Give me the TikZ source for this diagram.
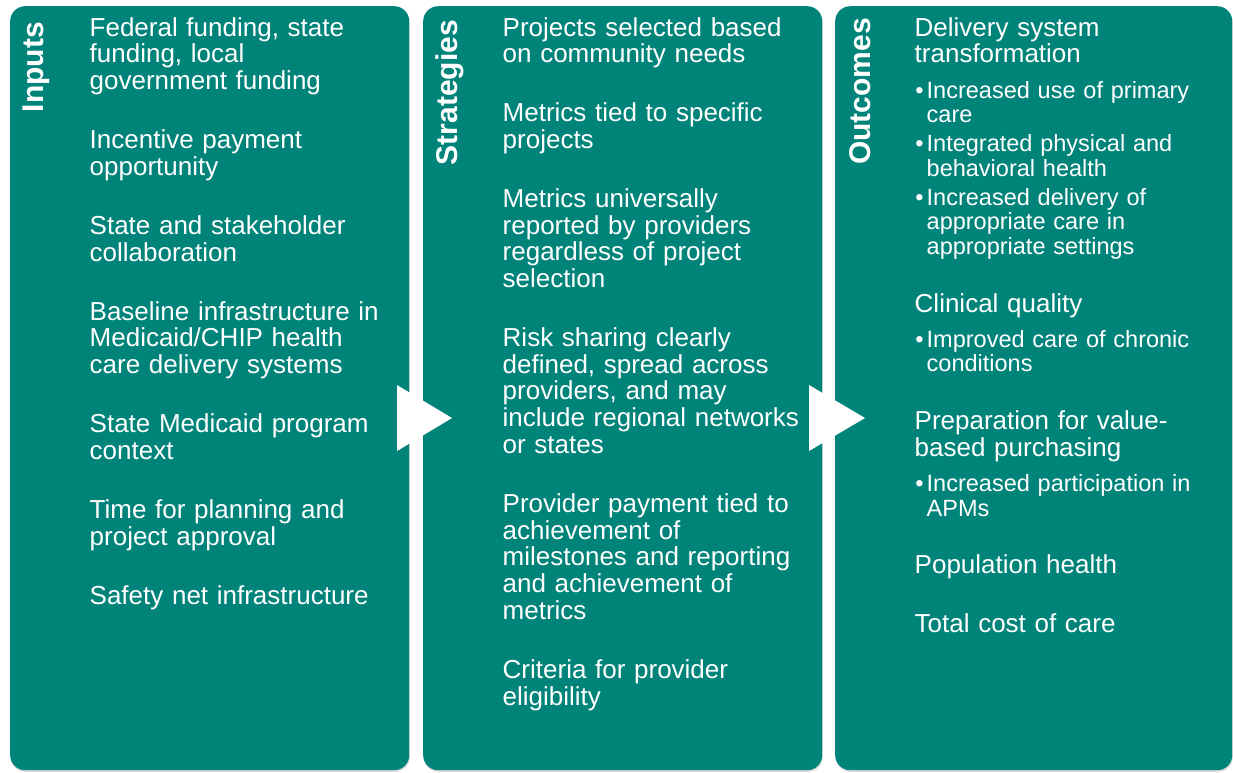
\documentclass[tikz,border=0pt]{standalone}
\usepackage{fontspec}
\setmainfont{Liberation Sans}
\usetikzlibrary{positioning,shadows}
\definecolor{lmteal}{RGB}{0,132,122}
\tikzset{panel/.style={fill=lmteal, rounded corners=15pt, minimum width=399pt, minimum height=764pt, anchor=north west, inner sep=0pt, drop shadow={shadow xshift=0.6pt, shadow yshift=-1.6pt, opacity=0.3}}}
\tikzset{paneltitle/.style={text=white, font=\fontsize{30}{31}\selectfont\bfseries, rotate=90, anchor=base east, inner sep=0pt}}
\tikzset{entry/.style={text=white, font=\fontsize{26}{26.8}\selectfont, text width=330pt, align=left, inner sep=0pt, execute at begin node={\lineskiplimit=-30pt\strut}, execute at end node=\strut}}
\tikzset{subentry/.style={entry, font=\fontsize{23.5}{24.6}\selectfont, text width=300pt}}
\newcommand{\bul}{\llap{\textbullet\hspace{3pt}}}

\begin{document}
\begin{tikzpicture}[x=1pt, y=-1pt]
\useasboundingbox (0,0) rectangle (1233,772);
% three columns
\node[panel] (inbox) at (10,6) {};
\node[panel] (stbox) at (423,6) {};
\node[panel, minimum width=397pt] (outbox) at (835,6) {};
\node[paneltitle] (intitle) at ([shift={(33,16)}]inbox.north west) {Inputs};
\node[paneltitle] (sttitle) at ([shift={(34,14)}]stbox.north west) {Strategies};
\node[paneltitle] (outtitle) at ([shift={(35,12)}]outbox.north west) {Outcomes};
% inputs
\node[entry, below right=11pt and 79.5pt of inbox.north west] (in1) {Federal funding, state\\funding, local\\government funding};
\node[entry, below=31.7pt of in1] (in2) {Incentive payment\\opportunity};
\node[entry, below=31.7pt of in2] (in3) {State and stakeholder\\collaboration};
\node[entry, below=31.7pt of in3] (in4) {Baseline infrastructure in\\Medicaid/CHIP health\\care delivery systems};
\node[entry, below=31.7pt of in4] (in5) {State Medicaid program\\context};
\node[entry, below=31.7pt of in5] (in6) {Time for planning and\\project approval};
\node[entry, below=31.7pt of in6] (in7) {Safety net infrastructure};
% strategies
\node[entry, below right=11pt and 79.5pt of stbox.north west] (st1) {Projects selected based\\on community needs};
\node[entry, below=31.5pt of st1] (st2) {Metrics tied to specific\\projects};
\node[entry, below=31.5pt of st2] (st3) {Metrics universally\\reported by providers\\regardless of project\\selection};
\node[entry, below=31.5pt of st3] (st4) {Risk sharing clearly\\defined, spread across\\providers, and may\\include regional networks\\or states};
\node[entry, below=31.5pt of st4] (st5) {Provider payment tied to\\achievement of\\milestones and reporting\\and achievement of\\metrics};
\node[entry, below=31.5pt of st5] (st6) {Criteria for provider\\eligibility};
% outcomes
\node[entry, below right=11pt and 79.5pt of outbox.north west] (out1) {Delivery system\\transformation};
\node[subentry, below=9.6pt of out1.south west, anchor=north west, xshift=12pt] (ob1) {\bul Increased use of primary\\care};
\node[subentry, below=3.9pt of ob1] (ob2) {\bul Integrated physical and\\behavioral health};
\node[subentry, below=3.9pt of ob2] (ob3) {\bul Increased delivery of\\appropriate care in\\appropriate settings};
\node[entry, below=31.5pt of ob3.south west, anchor=north west, xshift=-12pt] (out2) {Clinical quality};
\node[subentry, below=9pt of out2.south west, anchor=north west, xshift=12pt] (ob4) {\bul Improved care of chronic\\conditions};
\node[entry, below=31.5pt of ob4.south west, anchor=north west, xshift=-12pt] (out3) {Preparation for value-\\based purchasing};
\node[subentry, below=9.5pt of out3.south west, anchor=north west, xshift=12pt] (ob5) {\bul Increased participation in\\APMs};
\node[entry, below=31pt of ob5.south west, anchor=north west, xshift=-12pt] (out4) {Population health};
\node[entry, below=31.5pt of out4] (out5) {Total cost of care};
% arrows between columns
\fill[white] (397,385) -- (397,451) -- (452,418) -- cycle;
\fill[white] (809,385) -- (809,451) -- (865,418) -- cycle;
\end{tikzpicture}
\end{document}
